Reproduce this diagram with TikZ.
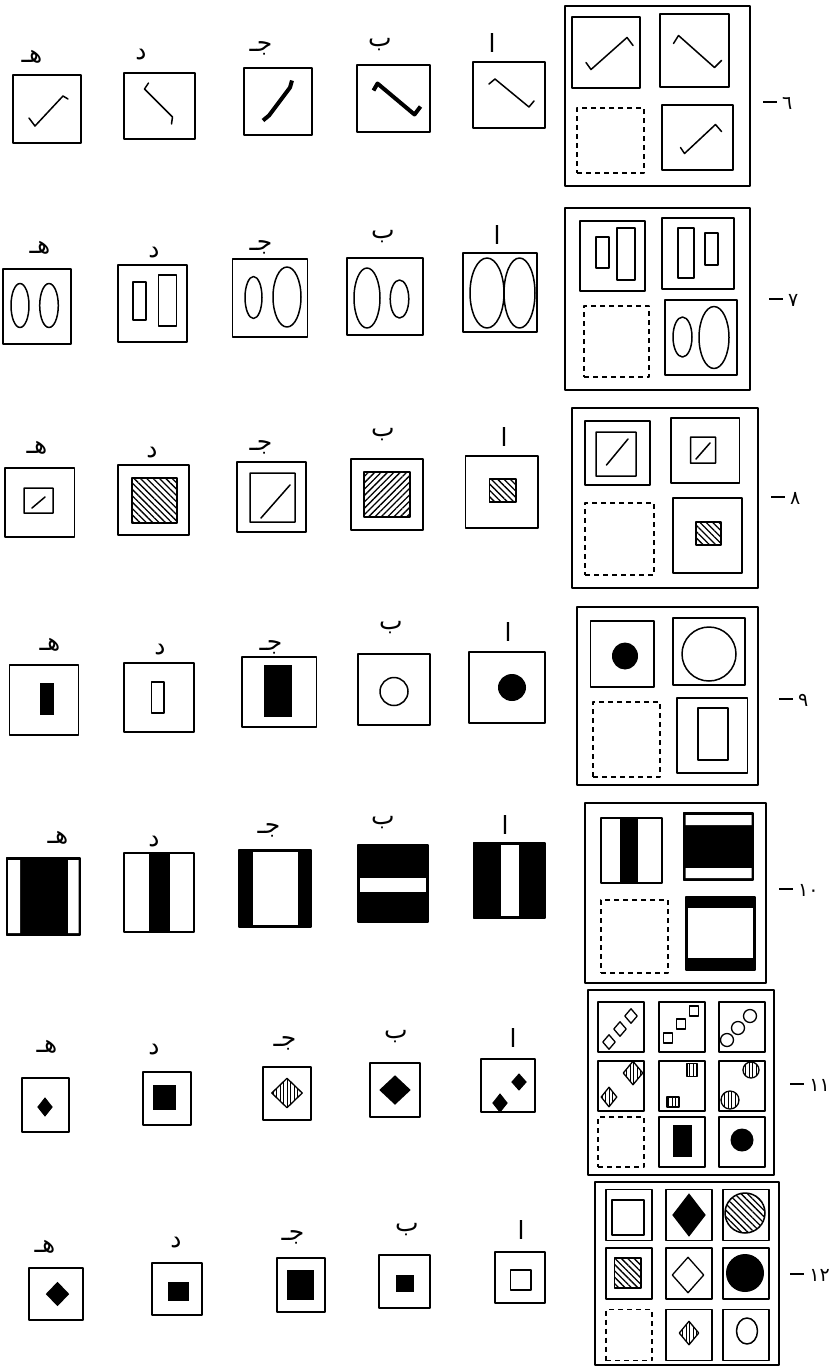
\documentclass[tikz,border=0pt]{standalone}
\usepackage{fontspec}
\newfontfamily\arabicfont[Script=Arabic]{DejaVu Sans}
\TeXXeTstate=1
\usetikzlibrary{patterns.meta,shapes.geometric}

\newcommand\rowdash{\rule[6pt]{14pt}{2.2pt}\hspace{5pt}}

\begin{document}
\begin{tikzpicture}[x=1pt, y=-1pt, line join=round,
  optbox/.style={draw, line width=1.6pt, inner sep=0pt},
  blankbox/.style={draw, line width=1.6pt, dash pattern=on 5pt off 4pt, inner sep=0pt},
  frame/.style={draw, line width=2pt, inner sep=0pt},
  stroke/.style={line width=1.5pt, line cap=round},
  heavy/.style={line width=4pt},
  hatchL/.style={pattern={Lines[angle=-45, distance=4.5pt, line width=1.3pt]}},
  hatchR/.style={pattern={Lines[angle=45, distance=4.5pt, line width=1.3pt]}},
  stripes/.style={pattern={Lines[angle=90, distance=3.5pt, line width=1pt]}},
  rhomb/.style={diamond, inner sep=0pt, line width=1.3pt},
  lbl/.style={font=\arabicfont\fontsize{25}{25}\selectfont, inner sep=0pt},
  rowno/.style={font=\arabicfont\fontsize{19}{19}\selectfont, inner sep=0pt, anchor=west}]

  \fill[white] (0,0) rectangle (830,1369);
  \useasboundingbox (0,0) rectangle (830,1369);

  % ---------------- row 6
  \node[frame, minimum width=185, minimum height=180] (f6) at (657.5,96) {};
  \node[optbox, minimum width=68, minimum height=71] (c6a) at (606,52.5) {};
  \node[optbox, minimum width=69, minimum height=73] (c6b) at (694.5,50.5) {};
  \node[blankbox, minimum width=67, minimum height=65] (c6c) at (610.5,140.5) {};
  \node[optbox, minimum width=71, minimum height=65] (c6d) at (697.5,137.5) {};
  \node[optbox, minimum width=72, minimum height=66] (r6a) at (509,95) {};
  \node[optbox, minimum width=73, minimum height=67] (r6b) at (393.5,98.5) {};
  \node[optbox, minimum width=68, minimum height=67] (r6c) at (278,101.5) {};
  \node[optbox, minimum width=71, minimum height=66] (r6d) at (159.5,106) {};
  \node[optbox, minimum width=68, minimum height=68] (r6e) at (47,109) {};
  \draw[stroke, shift={(c6a)}] (-20,10) -- (-15,17) -- (21,-15) -- (27,-7);
  \draw[stroke, shift={(c6b)}] (-21,-7) -- (-16,-15) -- (20,17) -- (27,10);
  \draw[stroke, shift={(c6d)}] (-17,10) -- (-13,16) -- (18,-13) -- (24,-6);
  \draw[stroke, shift={(r6a)}] (-20,-11) -- (-14,-16) -- (20,12) -- (25,6);
  \draw[heavy, shift={(r6b)}] (-20,-8) -- (-16,-15) -- (21,16) -- (27,8);
  \draw[heavy, shift={(r6c)}] (14,-21) -- (12,-14) -- (-9,14) -- (-15,19);
  \draw[stroke, shift={(r6d)}] (-11,-23) -- (-15,-17) -- (13,11) -- (12,18);
  \draw[stroke, shift={(r6e)}] (-18,9) -- (-12,17) -- (16,-13) -- (21,-10);
  \foreach \nm/\px/\py/\t in {a/492/43/ا, b/380/45/ب, c/261/48/جـ, d/141/55/د, e/32/57/هـ}
    \node[lbl] (l6\nm) at (\px,\py) {\beginR\t\endR};
  \node[rowno] (n6) at (763,103) {\rowdash ٦};

  % ---------------- row 7
  \node[frame, minimum width=185, minimum height=182] (f7) at (657.5,299) {};
  \node[optbox, minimum width=65, minimum height=70] (c7a) at (612.5,256) {};
  \node[optbox, minimum width=72, minimum height=71] (c7b) at (698,253.5) {};
  \node[blankbox, minimum width=65, minimum height=71] (c7c) at (616.5,341.5) {};
  \node[optbox, minimum width=72, minimum height=75] (c7d) at (701,337.5) {};
  \draw[stroke] (596,237) rectangle (609,268) (617,228) rectangle (635,280);
  \draw[stroke] (678,228) rectangle (694,278) (705,233) rectangle (718,265);
  \draw[stroke] (682.5,337) ellipse [x radius=9.5, y radius=20]
                (714,337.5) ellipse [x radius=15, y radius=31];
  \node[optbox, minimum width=74, minimum height=79] (r7a) at (500,292.5) {};
  \node[optbox, minimum width=76, minimum height=77] (r7b) at (385,296.5) {};
  \node[optbox, minimum width=75, minimum height=78] (r7c) at (270,298) {};
  \node[optbox, minimum width=69, minimum height=77] (r7d) at (152.5,303.5) {};
  \node[optbox, minimum width=68, minimum height=75] (r7e) at (36.75,306.5) {};
  \draw[stroke] (487,293) ellipse [x radius=17, y radius=35]
                (519.5,293) ellipse [x radius=15.5, y radius=35];
  \draw[stroke] (367,298) ellipse [x radius=13, y radius=30]
                (399.5,299) ellipse [x radius=9.3, y radius=19];
  \draw[stroke] (253.5,297.5) ellipse [x radius=8.5, y radius=21]
                (287,297) ellipse [x radius=14, y radius=30];
  \draw[stroke] (133,282) rectangle (146,320) (158.5,275) rectangle (176.6,326);
  \draw[stroke] (20,305.5) ellipse [x radius=9, y radius=22]
                (49,305.5) ellipse [x radius=9.3, y radius=22];
  \foreach \nm/\px/\py/\t in {a/497/235/ا, b/383/237/ب, c/261/247/جـ, d/154/253/د, e/40/248/هـ}
    \node[lbl] (l7\nm) at (\px,\py) {\beginR\t\endR};
  \node[rowno] (n7) at (769,300) {\rowdash ٧};

  % ---------------- row 8
  \node[frame, minimum width=186, minimum height=180] (f8) at (665,498) {};
  \node[optbox, minimum width=65, minimum height=64] (c8a) at (617.5,453) {};
  \node[optbox, minimum width=68.5, minimum height=65] (c8b) at (705.25,450.5) {};
  \node[blankbox, minimum width=69, minimum height=72] (c8c) at (619.5,539) {};
  \node[optbox, minimum width=69, minimum height=75] (c8d) at (707.5,535.5) {};
  \draw[stroke] (596,432) rectangle (636,476) (606.5,465) -- (628,439);
  \draw[stroke] (690.5,437) rectangle (715.5,463) (696,459) -- (710,443);
  \draw[stroke, hatchL] (696,522) rectangle (721,545);
  \node[optbox, minimum width=72.5, minimum height=72] (r8a) at (501.75,492) {};
  \node[optbox, minimum width=72, minimum height=71] (r8b) at (387,494.5) {};
  \node[optbox, minimum width=69, minimum height=70] (r8c) at (271.5,497) {};
  \node[optbox, minimum width=71, minimum height=70] (r8d) at (153.5,500) {};
  \node[optbox, minimum width=69.5, minimum height=69] (r8e) at (39.75,502.5) {};
  \draw[stroke, hatchL] (489.4,479) rectangle (516,502);
  \draw[stroke, hatchR] (364,472) rectangle (410,517);
  \draw[stroke] (250,473) rectangle (295,522) (261,518) -- (290,485);
  \draw[stroke, hatchL] (132,478) rectangle (177,523);
  \draw[stroke] (24,488) rectangle (53,513) (32,508) -- (45,497);
  \foreach \nm/\px/\py/\t in {a/504/437/ا, b/383/435/ب, c/261/447/جـ, d/152/453/د, e/37/448/هـ}
    \node[lbl] (l8\nm) at (\px,\py) {\beginR\t\endR};
  \node[rowno] (n8) at (771,498) {\rowdash ٨};

  % ---------------- row 9
  \node[frame, minimum width=181, minimum height=178] (f9) at (667.5,696) {};
  \node[optbox, minimum width=63.5, minimum height=66] (c9a) at (622.25,654) {};
  \node[optbox, minimum width=72, minimum height=67] (c9b) at (709,651.5) {};
  \node[blankbox, minimum width=67, minimum height=75] (c9c) at (626.5,739.5) {};
  \node[optbox, minimum width=70.5, minimum height=75] (c9d) at (712.25,735.5) {};
  \fill (625,656) ellipse [x radius=13, y radius=13.5];
  \draw[stroke] (709,654) circle [radius=27];
  \draw[stroke] (698,708) rectangle (728,760);
  \node[optbox, minimum width=76, minimum height=71] (r9a) at (507,687.5) {};
  \node[optbox, minimum width=72, minimum height=71] (r9b) at (394,689.5) {};
  \node[optbox, minimum width=74.5, minimum height=70] (r9c) at (279.25,692) {};
  \node[optbox, minimum width=70, minimum height=69] (r9d) at (159,697.5) {};
  \node[optbox, minimum width=69, minimum height=70] (r9e) at (44.15,700) {};
  \fill (512,687.5) ellipse [x radius=14, y radius=13.5];
  \draw[stroke] (394,691.5) circle [radius=14];
  \fill (264,665) rectangle (291.5,717);
  \draw[stroke] (151.6,682) rectangle (164,713);
  \fill (40,683) rectangle (54,715);
  \foreach \nm/\px/\py/\t in {a/508/632/ا, b/391/628/ب, c/271/647/جـ, d/160/650/د, e/50/645/هـ}
    \node[lbl] (l9\nm) at (\px,\py) {\beginR\t\endR};
  \node[rowno] (n9) at (779,700) {\rowdash ٩};

  % ---------------- row 10
  \node[frame, minimum width=181, minimum height=180] (f10) at (675.5,893) {};
  \node[optbox, minimum width=61, minimum height=65] (c10a) at (631.5,850.5) {};
  \fill (620,818) rectangle (638,883);
  \node[optbox, fill=black, minimum width=69.4, minimum height=67] (c10b) at (718.3,846.5) {};
  \fill[white] (685.5,815) rectangle (751.5,825) (685.5,868) rectangle (751.5,878);
  \node[blankbox, minimum width=67, minimum height=73] (c10c) at (634.5,936.5) {};
  \node[optbox, fill=black, minimum width=69, minimum height=73] (c10d) at (720.5,933.5) {};
  \fill[white] (688,908) rectangle (753,958);
  \node[optbox, fill=black, minimum width=71.5, minimum height=75] (r10a) at (509.25,880.5) {};
  \fill[white] (501,845) rectangle (519,916);
  \node[optbox, fill=black, minimum width=70, minimum height=77] (r10b) at (393,883.5) {};
  \fill[white] (360,878) rectangle (426,892);
  \node[optbox, fill=black, minimum width=72, minimum height=77] (r10c) at (275,888.5) {};
  \fill[white] (253,852) rectangle (298,925);
  \node[optbox, minimum width=70, minimum height=79] (r10d) at (159,892.5) {};
  \fill (149,853) rectangle (170,932);
  \node[optbox, fill=black, minimum width=73.6, minimum height=77] (r10e) at (43.2,896.5) {};
  \fill[white] (8,860) rectangle (20,933) (68,860) rectangle (78.5,933);
  \foreach \nm/\px/\py/\t in {a/505/825/ا, b/383/823/ب, c/269/830/جـ, d/154/842/د, e/58/838/هـ}
    \node[lbl] (l10\nm) at (\px,\py) {\beginR\t\endR};
  \node[rowno] (n10) at (779,890) {\rowdash ١٠};

  % ---------------- row 11
  \node[frame, minimum width=186, minimum height=185] (f11) at (681,1082.5) {};
  \foreach \nm/\cx/\cy in {a/621/1027, b/682/1027, c/742/1027, d/621/1086, e/682/1086,
                           f/742/1086, h/682/1142, i/742/1142}
    \node[optbox, minimum width=46, minimum height=50] (c11\nm) at (\cx,\cy) {};
  \node[blankbox, minimum width=46, minimum height=50] (c11g) at (621,1142) {};
  \foreach \k/\dx/\dy in {1/609/1042, 2/620/1029, 3/631/1016}
    \node[rhomb, draw, minimum width=13, minimum height=15] (d11a\k) at (\dx,\dy) {};
  \foreach \dx/\dy in {668/1038, 681/1024, 694/1011}
    \draw[line width=1.3pt] (\dx-4.5,\dy-5) rectangle (\dx+4.5,\dy+5);
  \foreach \dx/\dy in {727/1040, 738/1028, 750/1016}
    \draw[line width=1.3pt] (\dx,\dy) circle [radius=6.5];
  \node[rhomb, draw, stripes, minimum width=16, minimum height=20] (d11d1) at (609,1097) {};
  \node[rhomb, draw, stripes, minimum width=20, minimum height=24] (d11d2) at (633,1073) {};
  \draw[line width=1.3pt, stripes] (687,1063.5) rectangle (697,1076.5) (667,1097) rectangle (679,1107);
  \draw[line width=1.3pt, stripes] (751,1070) circle [radius=8] (730,1100) circle [radius=9];
  \fill (673,1125) rectangle (692,1157);
  \fill (742,1140) circle [radius=11.5];
  \node[optbox, line width=2pt, minimum width=53.5, minimum height=53] (r11a) at (508,1085.5) {};
  \node[optbox, line width=2pt, minimum width=50, minimum height=54] (r11b) at (395,1090) {};
  \node[optbox, line width=2pt, minimum width=48, minimum height=53] (r11c) at (287,1093.5) {};
  \node[optbox, line width=2pt, minimum width=48, minimum height=53] (r11d) at (166.5,1098.5) {};
  \node[optbox, line width=2pt, minimum width=47, minimum height=54] (r11e) at (45.5,1105) {};
  \node[rhomb, fill, minimum width=16, minimum height=20] (d11a) at (500,1103) {};
  \node[rhomb, fill, minimum width=16, minimum height=18] (d11b) at (519,1082) {};
  \node[rhomb, fill, minimum width=32, minimum height=30] (d11c) at (395,1090) {};
  \node[rhomb, draw, stripes, minimum width=31, minimum height=30] (d11e) at (287,1093) {};
  \fill (153,1085) rectangle (175.6,1110);
  \node[rhomb, fill, minimum width=16, minimum height=20] (d11f) at (45,1107) {};
  \foreach \nm/\px/\py/\t in {a/513/1038/ا, b/396/1037/ب, c/285/1043/جـ, d/154/1050/د, e/47/1047/هـ}
    \node[lbl] (l11\nm) at (\px,\py) {\beginR\t\endR};
  \node[rowno, anchor=east] (n11) at (830,1085) {\rowdash ١١};

  % ---------------- row 12
  \node[frame, minimum width=184, minimum height=183] (f12) at (687,1273.5) {};
  \foreach \nm/\cx/\cy in {a/629/1215, b/689/1215, c/746/1215, d/629/1273.5, e/689/1273.5,
                           f/746/1273.5, h/689/1335, i/746/1335}
    \node[optbox, minimum width=46, minimum height=51] (c12\nm) at (\cx,\cy) {};
  \node[blankbox, minimum width=46, minimum height=51] (c12g) at (629,1335) {};
  \draw[stroke] (612,1200) rectangle (644,1235);
  \node[rhomb, fill, minimum width=34, minimum height=44] (d12b) at (689,1215) {};
  \draw[stroke, hatchL] (745,1213) circle [radius=20];
  \draw[stroke, hatchL] (614.5,1258) rectangle (641,1288);
  \node[rhomb, draw, minimum width=32, minimum height=36] (d12e) at (688,1275) {};
  \fill (745,1273) circle [radius=19];
  \node[rhomb, draw, stripes, minimum width=20, minimum height=24] (d12h) at (689,1333) {};
  \draw[stroke] (747,1331) ellipse [x radius=10.5, y radius=13];
  \node[optbox, line width=2pt, minimum width=50, minimum height=51] (r12a) at (520,1277.5) {};
  \node[optbox, line width=2pt, minimum width=51, minimum height=53] (r12b) at (404.5,1281.5) {};
  \node[optbox, line width=2pt, minimum width=48, minimum height=54] (r12c) at (300.5,1285) {};
  \node[optbox, line width=2pt, minimum width=50, minimum height=52] (r12d) at (176.8,1289) {};
  \node[optbox, line width=2pt, minimum width=53.5, minimum height=52] (r12e) at (55.75,1294) {};
  \draw[stroke] (510.7,1270) rectangle (531,1290);
  \fill (396,1275) rectangle (414,1292);
  \fill (287,1270) rectangle (314,1300);
  \fill (167.6,1282) rectangle (189,1301);
  \node[rhomb, fill, minimum width=24, minimum height=25] (d12f) at (57.5,1294) {};
  \foreach \nm/\px/\py/\t in {a/521/1230/ا, b/407/1230/ب, c/293/1237/جـ, d/176/1243/د, e/45/1247/هـ}
    \node[lbl] (l12\nm) at (\px,\py) {\beginR\t\endR};
  \node[rowno, anchor=east] (n12) at (830,1275) {\rowdash ١٢};

\end{tikzpicture}
\end{document}
